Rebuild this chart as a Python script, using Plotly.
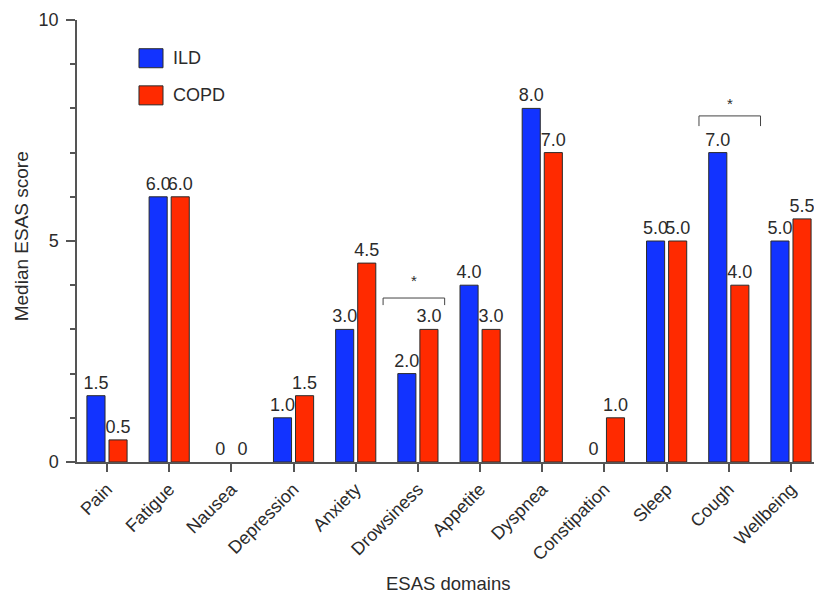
import plotly.graph_objects as go

# ESAS domain medians by group
domains = ["Pain", "Fatigue", "Nausea", "Depression", "Anxiety", "Drowsiness",
           "Appetite", "Dyspnea", "Constipation", "Sleep", "Cough", "Wellbeing"]
ild = [1.5, 6.0, 0, 1.0, 3.0, 2.0, 4.0, 8.0, 0, 5.0, 7.0, 5.0]
copd = [0.5, 6.0, 0, 1.5, 4.5, 3.0, 3.0, 7.0, 1.0, 5.0, 4.0, 5.5]

# significance brackets: (left, right, top, tip bottom, star y)
sig_brackets = [
    (4.44, 5.43, 3.71, 3.55, 4.10),
    (9.52, 10.51, 7.83, 7.60, 8.12),
]

BLUE = "#1233ff"
RED = "#ff2a00"
TXT = "#2b2b2b"
AX = "#555555"
FONT = "Liberation Sans, Arial, Helvetica, sans-serif"


def fmt(v):
    return "0" if v == 0 else f"{v:.1f}"


fig = go.Figure()
for name, vals, col in [("ILD", ild, BLUE), ("COPD", copd, RED)]:
    fig.add_trace(go.Bar(
        x=domains, y=vals, name=name,
        marker=dict(color=col,
                    line=dict(color="#2a2a2a",
                              width=[1 if v > 0 else 0 for v in vals])),
        text=[fmt(v) for v in vals], textposition="outside",
        constraintext="none", cliponaxis=False,
        textfont=dict(family=FONT, size=18, color=TXT),
        showlegend=False,
    ))

shapes = []
annotations = []
for x0, x1, ytop, ybot, ystar in sig_brackets:
    shapes.append(dict(
        type="path", xref="x", yref="y",
        path=f"M {x0},{ybot} L {x0},{ytop} L {x1},{ytop} L {x1},{ybot}",
        line=dict(color="#444444", width=1),
    ))
    annotations.append(dict(
        x=(x0 + x1) / 2, y=ystar, xref="x", yref="y", text="*",
        showarrow=False, font=dict(family=FONT, size=15, color=TXT),
    ))

# legend swatches drawn as boxes with labels
for (name, col), (y0, y1) in zip([("ILD", BLUE), ("COPD", RED)],
                                 [(0.892, 0.935), (0.808, 0.851)]):
    shapes.append(dict(
        type="rect", xref="paper", yref="paper",
        x0=0.0841, x1=0.1167, y0=y0, y1=y1,
        fillcolor=col, line=dict(color="#2a2a2a", width=1),
    ))
    annotations.append(dict(
        x=0.128, y=(y0 + y1) / 2, xref="paper", yref="paper",
        text=name, showarrow=False, xanchor="left", yanchor="middle",
        font=dict(family=FONT, size=18, color=TXT),
    ))

# axis titles
annotations.append(dict(
    x=-0.075, y=0.51, xref="paper", yref="paper", text="Median ESAS score",
    textangle=-90, showarrow=False, xanchor="center", yanchor="middle",
    font=dict(family=FONT, size=19, color=TXT),
))
annotations.append(dict(
    x=0.503, y=-0.275, xref="paper", yref="paper", text="ESAS domains",
    showarrow=False, xanchor="center", yanchor="middle",
    font=dict(family=FONT, size=18.5, color=TXT),
))

fig.update_layout(
    width=814, height=594,
    margin=dict(l=77, r=0, t=20, b=132),
    paper_bgcolor="white", plot_bgcolor="white",
    barmode="group", bargap=0.29, bargroupgap=0.18,
    font=dict(family=FONT, size=18, color=TXT),
    shapes=shapes, annotations=annotations,
    xaxis=dict(
        range=[-0.4825, 11.37], showline=True, linecolor=AX, linewidth=1.5,
        ticks="outside", ticklen=8, tickcolor=AX, tickwidth=1.5,
        tickangle=-45, showgrid=False, zeroline=False,
        tickfont=dict(family=FONT, size=18, color=TXT),
    ),
    yaxis=dict(
        range=[0, 10], showline=True, linecolor=AX, linewidth=1.5,
        tickvals=[0, 5, 10], ticks="outside", ticklen=9, tickcolor=AX,
        tickwidth=1.5, ticklabelstandoff=4,
        minor=dict(dtick=1, ticks="outside", ticklen=5, tickcolor=AX,
                   tickwidth=1.5, showgrid=False),
        showgrid=False, zeroline=False,
        tickfont=dict(family=FONT, size=18, color=TXT),
    ),
)

fig.write_html("out.html")
